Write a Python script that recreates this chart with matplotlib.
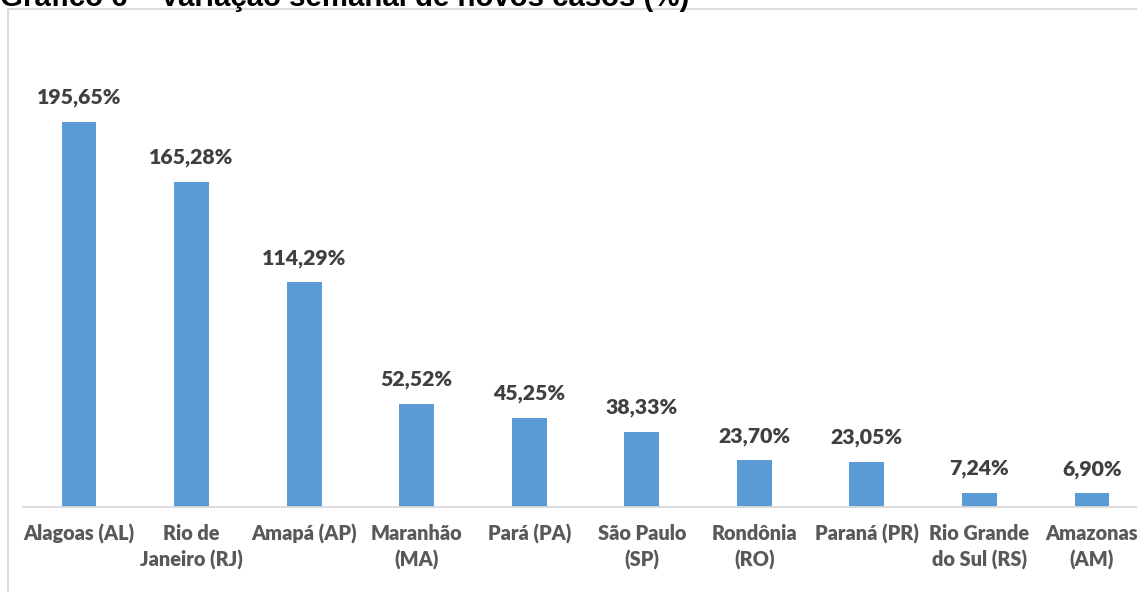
import matplotlib
matplotlib.use("Agg")
import matplotlib.pyplot as plt
from matplotlib.patches import Rectangle

categories = ["Alagoas (AL)", "Rio de\nJaneiro (RJ)", "Amapá (AP)", "Maranhão\n(MA)", "Pará (PA)",
              "São Paulo\n(SP)", "Rondônia\n(RO)", "Paraná (PR)", "Rio Grande\ndo Sul (RS)", "Amazonas\n(AM)"]
values = [195.65, 165.28, 114.29, 52.52, 45.25, 38.33, 23.70, 23.05, 7.24, 6.90]
value_labels = ["195,65%", "165,28%", "114,29%", "52,52%", "45,25%", "38,33%", "23,70%", "23,05%", "7,24%", "6,90%"]
title = "Gráfico 6 – Variação semanal de novos casos (%)"

W, H = 1137, 592
fig = plt.figure(figsize=(W / 100, H / 100), dpi=100)
fig.patch.set_facecolor("white")

# axes geometry (pixels)
x_left = 22.7
spacing = 112.56
base_y = 507
px_per_unit = 1.968
ymax = 200
ax_h = ymax * px_per_unit
ax = fig.add_axes([x_left / W, (H - base_y) / H, spacing * 10 / W, ax_h / H])

x = list(range(len(categories)))
ax.bar(x, values, width=0.31, color="#5B9BD5", zorder=2)
ax.set_xlim(-0.5, len(categories) - 0.5)
ax.set_ylim(0, ymax)

for xi, v, lab in zip(x, values, value_labels):
    ax.annotate(lab, (xi, v), xytext=(0, 13), textcoords="offset points",
                ha="center", va="baseline", fontsize=15.3, fontweight="heavy",
                color="#404040", family="Lato", clip_on=False)

ax.set_xticks(x)
ax.set_xticklabels(categories, fontsize=14.3, fontweight="heavy", color="#595959",
                   family="Lato", linespacing=1.45)
ax.tick_params(axis="x", length=0, pad=12)
ax.set_yticks([])
for s in ["top", "right", "left"]:
    ax.spines[s].set_visible(False)
ax.spines["bottom"].set_color("#D9D9D9")
ax.spines["bottom"].set_linewidth(1.3)

# outer chart border (partially cropped)
fig.patches.append(Rectangle((7.5 / W, -0.1), 2, (H - 8.5) / H + 0.1, transform=fig.transFigure,
                             fill=False, ec="#D9D9D9", lw=1.3))

# cropped title
fig.text(0.0, 1 - 5.5 / H, title, ha="left", va="baseline", fontsize=21.2,
         fontweight="bold", family="Liberation Sans", color="black")

fig.savefig("out.png", dpi=100)
